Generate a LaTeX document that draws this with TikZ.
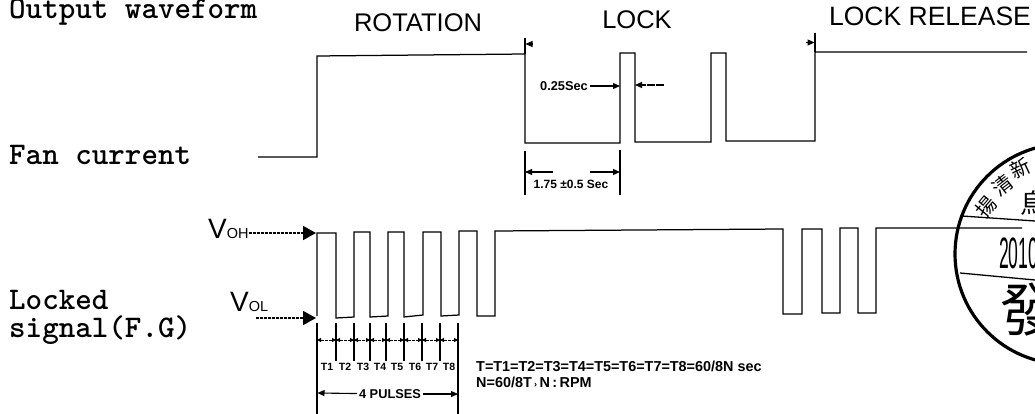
\documentclass[tikz,border=0pt]{standalone}
\usepackage{fontspec}
\setmainfont{Liberation Sans}
\newfontfamily\cjkf{Noto Sans CJK SC}
\usetikzlibrary{arrows.meta}
\tikzset{
  wave/.style={line width=1.25pt,line join=miter},
  dim/.style={line width=1.1pt},
  bigarrow/.style={-{Triangle[length=13pt,width=14pt]},line width=1.5pt,dash pattern=on 3pt off 1pt},
  dimarrow/.style={-{Triangle[length=7pt,width=6pt]},line width=1.1pt},
  tinyarrow/.style={{Triangle[length=4pt,width=4pt]}-{Triangle[length=4pt,width=4pt]},line width=0.9pt,dash pattern=on 3pt off 1pt},
  lab/.style={anchor=base west,inner sep=0pt,font=\ttfamily\bfseries\fontsize{31.5}{31.5}\selectfont},
  phase/.style={anchor=base,inner sep=0pt,font=\fontsize{25.5}{25.5}\selectfont},
  small/.style={inner sep=0pt,outer sep=2pt,font=\bfseries\fontsize{12.8}{13}\selectfont},
  tlab/.style={inner sep=0pt,font=\bfseries\fontsize{10.5}{11}\selectfont},
  note/.style={anchor=base west,inner sep=0pt,font=\bfseries\fontsize{14.4}{15}\selectfont},
  stampchar/.style={inner sep=0pt,font=\cjkf\fontsize{20}{20}\selectfont},
}
\begin{document}
\begin{tikzpicture}[x=1pt,y=-1pt]
\path[use as bounding box] (0,0) rectangle (1035,414);
\clip (0,0) rectangle (1035,414);
% left labels
\node[lab] (lout) at (9,19) {Output waveform};
\node[lab] (lfan) at (9,165) {Fan current};
\node[lab] (llock) at (9,309) {Locked};
\node[lab] (lsig) at (9,337) {signal(F.G)};
% phases
\node[phase] (prot) at (418,32) {ROTATION};
\node[phase] (plock) at (637,29) {LOCK};
\node[phase] (prel) at (930,26) {\fontsize{26.5}{26.5}\selectfont LOCK RELEASE};
% fan current
\draw[wave] (258,157) -- (317,157) -- (317,56) -- (525,54) -- (525,143) -- (620,143) -- (620,53) -- (635,53) -- (635,142) -- (711,142) -- (711,53) -- (726,53) -- (726,141) -- (815,141) -- (815,52) -- (1027,52);
\coordinate (tla) at (525,38); \coordinate (tlb) at (525,54);
\coordinate (tra) at (815,33); \coordinate (trb) at (815,52);
\draw[wave] (tla) -- (tlb);
\draw[wave] (tra) -- (trb);
\coordinate (al0) at (533,44); \coordinate (al1) at (525.5,44);
\coordinate (ar0) at (806,42.5); \coordinate (ar1) at (814.5,42.5);
\draw[dimarrow] (al0) -- (al1);
\draw[dimarrow] (ar0) -- (ar1);
% 0.25 Sec
\node[small] (t025) at (564,86) {0.25Sec};
\coordinate (p1l) at (620,86); \coordinate (p1r) at (635,85); \coordinate (p1x) at (664,85);
\draw[dimarrow] (t025) -- (p1l);
\draw[dimarrow,dash pattern=on 8pt off 1pt] (p1x) -- (p1r);
% 1.75
\coordinate (d1a) at (525,151); \coordinate (d1b) at (525,195);
\coordinate (d2a) at (620,150); \coordinate (d2b) at (620,195);
\draw[dim] (d1a) -- (d1b);
\draw[dim] (d2a) -- (d2b);
\coordinate (d1m) at (525,172); \coordinate (d2m) at (620,172);
\coordinate (d1s) at (553,172); \coordinate (d2s) at (590,172);
\draw[dimarrow] (d1s) -- (d1m);
\draw[dimarrow] (d2s) -- (d2m);
\node[small,font=\bfseries\fontsize{12}{12}\selectfont] (t175) at (571,184) {1.75 ±0.5 Sec};
% locked signal
\draw[wave] (317,316) -- (317,233) -- (336,233) -- (336,318) -- (354,317) -- (354,232) -- (370,232) -- (370,317) -- (388,316) -- (388,232) -- (404,232) -- (404,317) -- (423,315) -- (423,232) -- (441,232) -- (441,316) -- (459,315) -- (459,231) -- (477,231) -- (477,316) -- (495,316) -- (495,231) -- (783,229) -- (783,314) -- (802,314) -- (802,229) -- (822,229) -- (822,313) -- (840,313) -- (840,228) -- (858,228) -- (858,313) -- (876,313) -- (876,228) -- (1022,228);
% V labels
\node[inner sep=0pt,anchor=base west,font=\fontsize{28}{28}\selectfont] (voh) at (208,238) {V\fontsize{14.5}{14.5}\selectfont OH};
\node[inner sep=0pt,anchor=base west,font=\fontsize{28}{28}\selectfont] (vol) at (230,311) {V\fontsize{14.5}{14.5}\selectfont OL};
\coordinate (voha) at (316,233);
\coordinate (vols) at (256,318);
\coordinate (vola) at (316,318);
\draw[bigarrow] (voh.east |- voha) -- (voha);
\draw[bigarrow] (vols) -- (vola);
% T ticks
\foreach \n/\x/\yb in {0/317/414,1/336/361,2/354/361,3/370/361,4/386/361,5/404/361,6/422/361,7/440/361,8/458/414}{
  \coordinate (ta\n) at (\x,323);
  \coordinate (tb\n) at (\x,\yb);
  \coordinate (tm\n) at (\x,340);
  \draw[dim] (ta\n) -- (tb\n);
}
\foreach \a/\b in {0/1,1/2,2/3,3/4,4/5,5/6,6/7,7/8}{
  \draw[tinyarrow] (tm\a) -- (tm\b);
}
\foreach \i/\x in {1/327,2/345,3/363,4/380,5/397,6/415,7/432,8/449}{
  \node[tlab] (tt\i) at (\x,367) {T\i};
}
\node[small] (p4) at (390,394) {4 PULSES};
\coordinate (p4l) at (317.5,393); \coordinate (p4r) at (458,394);
\draw[dimarrow] (p4) -- (p4l);
\draw[dimarrow] (p4) -- (p4r);
% notes
\node[note] (n1) at (476,371) {T=T1=T2=T3=T4=T5=T6=T7=T8=60/8N sec};
\node[note] (n2) at (476,387) {N=60/8T\,{\fontsize{9}{9}\selectfont ›}\,N\,:\,RPM};
% stamp
\draw[line width=3.2pt] (1065,254) circle (110);
\draw[line width=1.3pt] (962,216) -- (1035,221);
\draw[line width=1.3pt] (960,273) -- (1035,280);
\node[anchor=base west,inner sep=0pt,font=\fontsize{44}{44}\selectfont,xscale=0.4] (yr) at (999,268) {2010};
\node[stampchar,rotate=50] (c1) at (986,207) {揚};
\node[stampchar,rotate=38] (c2) at (1003,185) {清};
\node[stampchar,rotate=25] (c3) at (1020,168) {新};
\node[inner sep=0pt,font=\cjkf\fontsize{27}{27}\selectfont] (c4) at (1034,203) {烏};
\node[inner sep=0pt,font=\cjkf\fontsize{58}{58}\selectfont] (c5) at (1029,310) {發};
\end{tikzpicture}
\end{document}
